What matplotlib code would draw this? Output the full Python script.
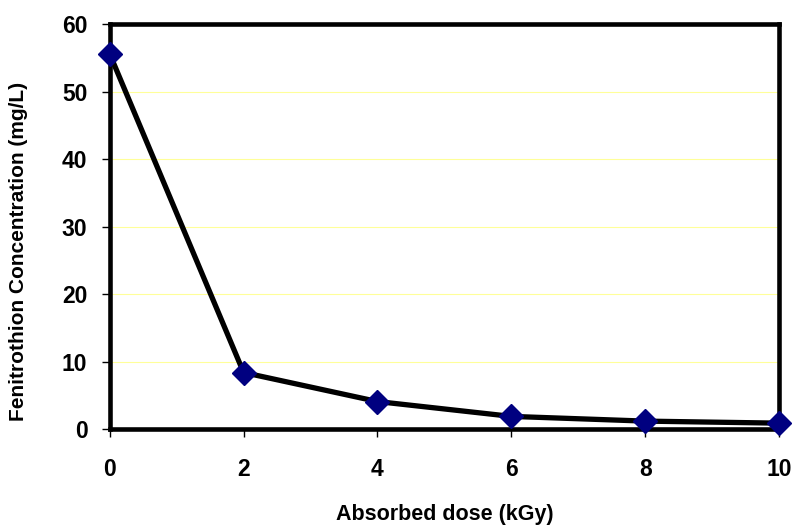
import matplotlib
matplotlib.use('Agg')
from matplotlib import pyplot as plt

# datos
dosis = [0, 2, 4, 6, 8, 10]
concentracion = [55.6, 8.4, 4.1, 1.9, 1.2, 0.9]
yticks = [0, 10, 20, 30, 40, 50, 60]
xticks = [0, 2, 4, 6, 8, 10]

plt.rcParams['font.family'] = ['Liberation Sans', 'DejaVu Sans']

fig = plt.figure(figsize=(7.95, 5.26), dpi=100)
ax = fig.add_axes([0.138, 0.184, 0.842, 0.770])

for y in yticks[1:-1]:
    ax.axhline(y, color='#ffff99', lw=0.8, zorder=1)

ax.plot(dosis, concentracion, color='black', lw=3.8, zorder=3,
        marker='D', markersize=12, markerfacecolor='#000080',
        markeredgecolor='#000080', clip_on=False)

ax.set_xlim(0, 10)
ax.set_ylim(0, 60)
ax.set_xticks(xticks)
ax.set_yticks(yticks)
ax.tick_params(direction='out', length=6, width=1, colors='black', labelsize=16.5)
ax.tick_params(axis='x', pad=15)
ax.tick_params(axis='y', pad=10)
for lbl in ax.get_xticklabels() + ax.get_yticklabels():
    lbl.set_fontweight('bold')

for s in ax.spines.values():
    s.set_linewidth(3.3)
    s.set_zorder(2)

ax.set_xlabel('Absorbed dose (kGy)', fontsize=15.5, fontweight='bold')
ax.set_ylabel('Fenitrothion Concentration (mg/L)', fontsize=15, fontweight='bold')
ax.xaxis.set_label_coords(0.5, -0.185)
ax.yaxis.set_label_coords(-0.122, 0.44)

fig.savefig('out.png', dpi=100)
